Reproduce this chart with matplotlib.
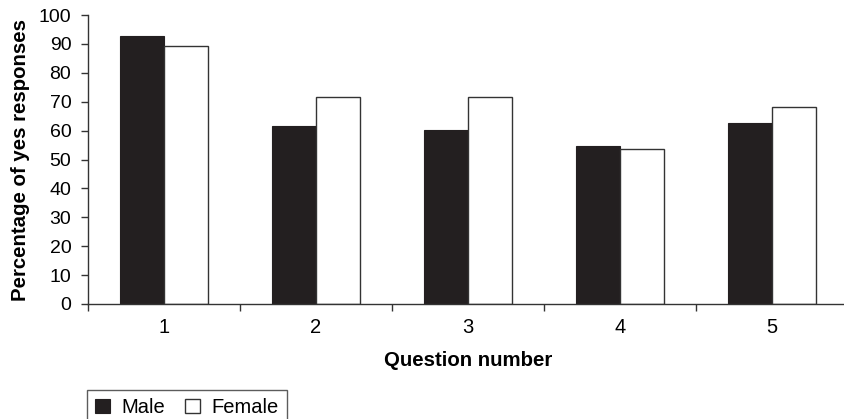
import numpy as np
import matplotlib.pyplot as plt

# Data
questions = ['1', '2', '3', '4', '5']
male = [92.7, 61.6, 60.2, 54.7, 62.6]
female = [89.2, 71.6, 71.6, 53.5, 68.0]

plt.rcParams['font.family'] = ['Liberation Sans', 'DejaVu Sans']

fig = plt.figure(figsize=(8.45, 4.19), dpi=100)
ax = fig.add_axes([88 / 845, 1 - 304 / 419, 760 / 845, (304 - 15) / 419])

x = np.arange(len(questions))
w = 0.29
ax.bar(x - w / 2, male, w, color='#231f20', edgecolor='#231f20', linewidth=0.8, label='Male')
ax.bar(x + w / 2, female, w, color='white', edgecolor='#333333', linewidth=1.0, label='Female')

ax.set_xlim(-0.5, len(questions) - 0.5)
ax.set_ylim(0, 100)
ax.set_yticks(range(0, 101, 10))

# category labels at centres, tick marks at category boundaries
ax.set_xticks(x)
ax.set_xticklabels(questions)
ax.set_xticks(np.arange(len(questions) + 1) - 0.5, minor=True)
ax.tick_params(axis='x', which='major', length=0, pad=10, labelsize=14.5)
ax.tick_params(axis='x', which='minor', length=5, width=1, color='#333333', direction='out')
ax.tick_params(axis='y', length=5, width=1, color='#333333', labelsize=14, pad=7)

for s in ['top', 'right']:
    ax.spines[s].set_visible(False)
for s in ['left', 'bottom']:
    ax.spines[s].set_color('#333333')
    ax.spines[s].set_linewidth(1.0)

ax.set_xlabel('Question number', fontsize=14.7, fontweight='bold', labelpad=10)
ax.set_ylabel('Percentage of yes responses', fontsize=14.7, fontweight='bold', labelpad=6.5)

leg = fig.legend(loc='upper left', bbox_to_anchor=(87 / 845, 1 - 390 / 419), ncol=2,
                 frameon=True, fancybox=False, fontsize=14.5, handlelength=0.75,
                 handleheight=0.75, handletextpad=0.55, columnspacing=1.0,
                 borderpad=0.4, borderaxespad=0)
leg.get_frame().set_edgecolor('#333333')
leg.get_frame().set_linewidth(1.0)

fig.savefig('out.png', dpi=100)
